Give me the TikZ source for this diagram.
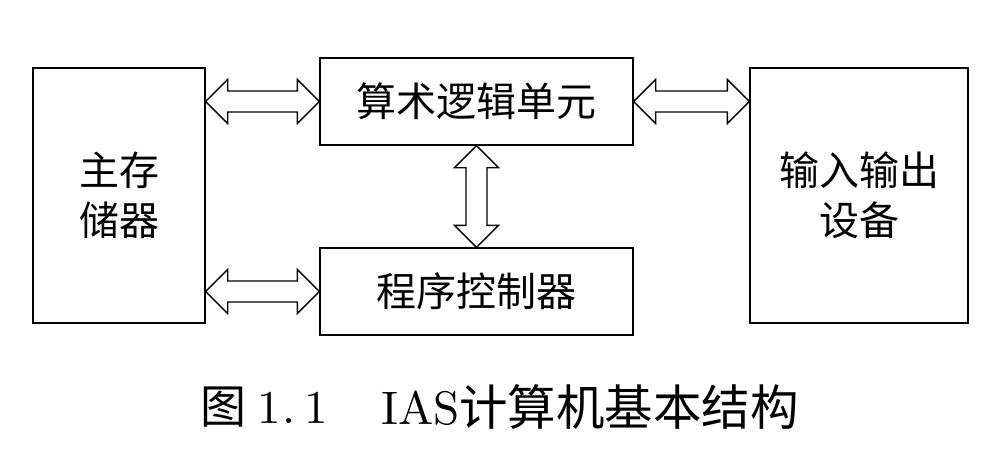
\documentclass[tikz,border=0pt]{standalone}
\usepackage{fontspec}
\newfontfamily\cjk{Noto Sans CJK SC}
\newfontfamily\lmten{lmroman10-regular.otf}
\usetikzlibrary{calc}
\tikzset{
  box/.style={draw=black, line width=1.4pt, inner sep=0pt, align=center,
    font=\cjk\fontsize{40}{50}\selectfont},
  dblarr/.style={draw=black, line width=1.4pt, line join=miter, fill=white},
  captext/.style={inner sep=0pt, anchor=west, font=\lmten\fontsize{47}{50}\selectfont}
}
\newcommand\darrow[2]{%
  \draw[dblarr] let \p1=#1, \p2=#2,
    \n1={veclen(\x2-\x1,\y2-\y1)}, \n2={atan2(\y2-\y1,\x2-\x1)} in
    [shift={(\p1)}, rotate=\n2]
    (0pt,0pt) -- (22pt,22pt) -- (22pt,10.5pt) -- (\n1-22pt,10.5pt) -- (\n1-22pt,22pt)
    -- (\n1,0pt) -- (\n1-22pt,-22pt) -- (\n1-22pt,-10.5pt) -- (22pt,-10.5pt)
    -- (22pt,-22pt) -- cycle;}
\begin{document}
\begin{tikzpicture}[x=1pt,y=-1pt]
\useasboundingbox (0,0) rectangle (1006,464);
\node[box, minimum width=172pt, minimum height=255pt] (mem) at (119,195.5) {主存\\储器};
\node[box, minimum width=313pt, minimum height=87pt] (alu) at (476.5,101.5) {算术逻辑单元};
\node[box, minimum width=313pt, minimum height=87pt] (ctl) at (476.5,291.5) {程序控制器};
\node[box, minimum width=218pt, minimum height=255pt] (io) at (859,195.5) {输入输出\\设备};
\darrow{(mem.east |- alu.west)}{(alu.west)}
\darrow{(mem.east |- ctl.west)}{(ctl.west)}
\darrow{(alu.east)}{(io.west |- alu.east)}
\darrow{(alu.south)}{(ctl.north)}
\node[captext, font=\cjk\fontsize{46}{50}\selectfont] (c1) at (200,407) {图};
\node[captext] (c2) at (257,408) {1\kern2pt.\kern9pt 1};
\node[captext] (c3) at (381,408) {IAS};
\node[captext, font=\cjk\fontsize{48.5}{50}\selectfont] (c4) at (459,407) {计算机基本结构};
\end{tikzpicture}
\end{document}
